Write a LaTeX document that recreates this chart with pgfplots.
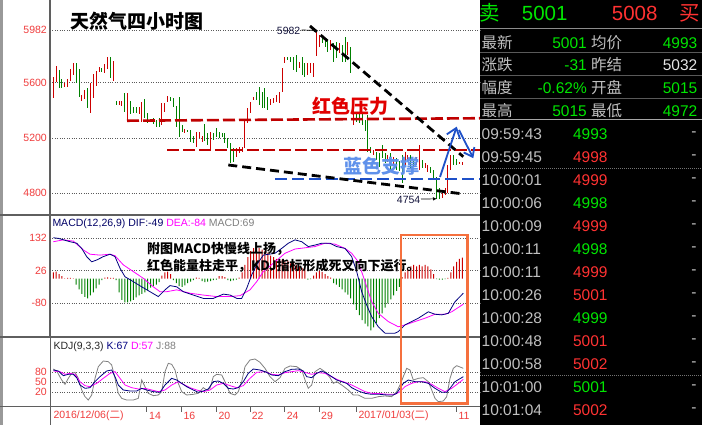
\documentclass[border=0pt]{standalone}
\usepackage{pgfplots}
\pgfplotsset{compat=1.18}
\usepackage{pgfplotstable}
\usepackage{fontspec}
\setmainfont{Liberation Sans}
\newfontfamily\cjk{Noto Sans CJK SC}
\usetikzlibrary{arrows.meta}
\definecolor{barred}{RGB}{204,0,0}
\definecolor{bargreen}{RGB}{0,128,0}
\definecolor{tickred}{RGB}{240,60,60}
\definecolor{dred}{RGB}{192,0,0}
\definecolor{dblue}{RGB}{30,80,200}
\definecolor{lblue}{RGB}{95,145,235}
\definecolor{navy}{RGB}{0,0,128}
\definecolor{magenta}{RGB}{255,0,255}
\definecolor{jgray}{RGB}{128,128,128}
\definecolor{gridc}{RGB}{90,90,90}
\definecolor{framec}{RGB}{95,95,95}
\definecolor{orangebox}{RGB}{245,112,62}
\definecolor{rpgreen}{RGB}{0,230,0}
\definecolor{rpred}{RGB}{255,50,50}
\definecolor{rpgray}{RGB}{192,192,192}

\pgfplotstableread{
i lo hi
0 5486 5643
1 5607 5721
4 5566 5595
5 5566 5624
6 5614 5699
7 5655 5740
10 5469 5511
11 5479 5547
13 5378 5595
14 5486 5663
15 5576 5687
16 5680 5711
18 5667 5735
19 5697 5788
21 5614 5757
23 5438 5467
24 5433 5467
26 5317 5523
30 5373 5421
31 5317 5462
38 5293 5455
39 5390 5455
40 5462 5503
46 5233 5264
50 5136 5245
51 5196 5245
52 5170 5213
55 5116 5245
64 5059 5124
65 5092 5136
66 5100 5136
67 5124 5329
68 5305 5414
69 5377 5462
70 5474 5498
76 5438 5479
77 5450 5486
78 5462 5510
79 5450 5535
80 5535 5704
81 5740 5788
86 5704 5752
89 5655 5740
90 5668 5745
91 5640 5740
92 5790 5982
93 5861 5945
97 5837 5909
100 5812 5885
103 5800 5897
105 5293 5402
112 5075 5112
117 5027 5075
119 5010 5060
123 4991 5099
124 5027 5075
127 5000 5060
128 4966 5148
130 4978 5015
131 4954 5003
136 4761 4809
137 4785 4833
138 4797 5003
139 4966 5075
142 5010 5027
143 5003 5027
}\redbars

\pgfplotstableread{
i lo hi
2 5559 5692
3 5559 5624
8 5595 5740
9 5494 5699
12 5419 5559
17 5680 5704
20 5631 5788
22 5438 5467
25 5390 5523
27 5370 5467
28 5378 5426
29 5378 5426
32 5341 5481
33 5305 5382
34 5317 5336
35 5300 5341
36 5281 5329
37 5281 5341
41 5469 5498
42 5421 5486
43 5281 5431
44 5208 5498
45 5245 5293
47 5245 5257
48 5172 5257
49 5160 5213
53 5179 5300
54 5148 5232
56 5184 5232
57 5208 5269
58 5196 5245
59 5204 5232
60 5165 5232
61 5124 5196
62 5015 5160
63 5027 5124
71 5474 5535
72 5438 5571
73 5414 5535
74 5414 5559
75 5402 5498
82 5764 5788
83 5752 5788
84 5692 5788
85 5680 5800
87 5655 5788
88 5639 5740
94 5885 5933
95 5861 5921
96 5825 5914
98 5752 5885
99 5776 5897
101 5752 5873
102 5752 5931
104 5670 5858
106 5317 5370
107 5305 5380
108 5290 5380
109 5250 5330
110 5099 5365
111 5087 5136
113 5039 5099
114 4991 5087
115 5051 5148
116 5015 5087
118 4954 5087
120 4966 5051
121 4960 5030
122 4870 5075
125 4978 5075
126 4990 5030
129 4978 5039
132 4942 4990
133 4894 4966
134 4754 4918
135 4760 4834
140 5003 5075
141 5000 5050
}\greenbars

\pgfplotstableread{
i v
0 20
1 23
2 15
3 8
4 1
5 2
6 2
7 1
18 3
19 4
20 2
21 2
38 10
39 20
40 23
41 15
50 3
51 2
58 8
59 8
60 5
65 3
66 20
67 45
68 70
69 90
70 100
71 105
72 100
73 95
74 90
75 85
76 75
77 70
78 65
79 60
80 62
81 55
82 58
83 50
84 52
85 45
86 40
87 35
88 30
91 10
92 20
93 25
94 22
95 15
96 8
97 3
122 5
123 20
124 30
125 40
126 45
127 40
128 45
129 40
130 45
131 40
132 30
133 15
138 2
139 20
140 40
141 55
142 65
143 69
}\macdpos

\pgfplotstableread{
i v
8 -20
9 -35
10 -50
11 -60
12 -65
13 -55
14 -45
15 -32
16 -20
17 -5
22 -5
23 -45
24 -70
25 -78
26 -78
27 -75
28 -70
29 -62
30 -55
31 -50
32 -45
33 -38
34 -30
35 -25
36 -20
37 -12
42 -5
43 -15
44 -25
45 -27
46 -22
47 -15
48 -10
49 -5
52 -8
53 -12
54 -10
55 -8
56 -5
57 -3
61 -5
62 -8
63 -6
64 -3
89 -3
90 -2
98 -15
99 -20
100 -27
101 -35
102 -45
103 -53
104 -65
105 -85
106 -103
107 -120
108 -136
109 -148
110 -157
111 -170
112 -160
113 -146
114 -130
115 -114
116 -95
117 -81
118 -68
119 -55
120 -40
121 -27
134 -2
135 -3
136 -3
137 -2
}\macdneg

\pgfplotsset{
  panel/.style={
    anchor=south west, scale only axis, width=430pt,
    xmin=50, xmax=480,
    axis line style={draw=none},
    xtick=\empty, major tick length=0pt,
    ymajorgrids,
    grid style={gridc, line width=0.6pt, dash pattern=on 0.8pt off 1.6pt},
    yticklabel style={font=\fontsize{10.5}{12}\selectfont, text=tickred, inner sep=0pt, xshift=-3pt},
  },
  barplot/.style={draw=none, mark=none,
    error bars/.cd, y dir=both, y explicit, error mark=none,
    error bar style={draw=#1, solid, line width=1pt}},
}

\begin{document}
\begin{tikzpicture}
\path[use as bounding box] (0pt,0pt) rectangle (702pt,425pt);
\fill[white] (0pt,0pt) rectangle (480pt,425pt);
\fill[black] (480pt,0pt) rectangle (702pt,425pt);
\fill[black!40] (0pt,0pt) rectangle (2.5pt,425pt);

% ---------- price panel ----------
\begin{axis}[panel, at={(50pt,210pt)}, height=215pt,
  ymin=4640.5, ymax=6199.25,
  ytick={4800,5200,5600,5982}, yticklabels={4800,5200,5600,5982}]
\addplot[barplot=barred] table[x expr={53.3+2.86*\thisrow{i}}, y expr={(\thisrow{lo}+\thisrow{hi})/2}, y error expr={(\thisrow{hi}-\thisrow{lo})/2}] {\redbars};
\addplot[barplot=bargreen] table[x expr={53.3+2.86*\thisrow{i}}, y expr={(\thisrow{lo}+\thisrow{hi})/2}, y error expr={(\thisrow{hi}-\thisrow{lo})/2}] {\greenbars};
\draw[dred, line width=2.6pt, dash pattern=on 12pt off 4pt] (axis cs:127,5324) -- (axis cs:480,5342);
\draw[dred, line width=2.6pt, dash pattern=on 12pt off 4pt] (axis cs:167,5112) -- (axis cs:480,5112);
\draw[dblue, line width=2.6pt, dash pattern=on 12pt off 5pt] (axis cs:275,4901.5) -- (axis cs:480,4901.5);
\draw[black, line width=2.8pt, dash pattern=on 9pt off 5pt] (axis cs:310,6010.75) -- (axis cs:463.3,5063);
\draw[black, line width=2.8pt, dash pattern=on 9pt off 5pt] (axis cs:228.3,5003) -- (axis cs:463.3,4793);
\draw[dblue, line width=1.8pt, -{Straight Barb[length=9pt,width=14pt]}] (axis cs:440,4916) -- (axis cs:456.7,5281);
\draw[dblue, line width=1.8pt, -{Straight Barb[length=8pt,width=12pt]}] (axis cs:459,5257) -- (axis cs:473.3,5052);
\draw[black, line width=0.7pt, -{Latex[length=4pt,width=3.5pt]}] (axis cs:301.5,5982) -- (axis cs:318,5978);
\node[anchor=east, inner sep=0pt, font=\fontsize{10.5}{12}\selectfont, text={rgb,255:red,20;green,20;blue,60}] at (axis cs:300.5,5978) {5982};
\draw[black, line width=0.7pt, -{Latex[length=4pt,width=3.5pt]}] (axis cs:421,4756) -- (axis cs:437,4758);
\node[anchor=east, inner sep=0pt, font=\fontsize{10.5}{12}\selectfont, text={rgb,255:red,20;green,20;blue,60}] at (axis cs:420.5,4747) {4754};
\end{axis}

% ---------- MACD panel ----------
\begin{axis}[panel, at={(50pt,88pt)}, height=122pt,
  ymin=-191.6, ymax=208.6,
  ytick={-80,26,132}, yticklabels={-80,26,132}]
\addplot[ybar, bar width=1pt, fill=barred, draw=none] table[x expr={53.3+2.86*\thisrow{i}}, y=v] {\macdpos};
\addplot[ybar, bar width=1pt, fill=bargreen, draw=none] table[x expr={53.3+2.86*\thisrow{i}}, y=v] {\macdneg};
\addplot[magenta, line width=0.8pt] coordinates {(53.3,121)(63.3,127)(73.3,123)(83.3,94)(90,80)(100,77)(110,80)(115,75)(123.3,45)(133.3,23)(143.3,1)(153.3,-27)(160,-43)(166.7,-43)(176.7,-37)(190,-48)(203.3,-54)(216.7,-59)(230,-59)(240,-56)(250,-37)(256.7,-10)(263.3,23)(275,55)(285,83)(295,97)(305,101)(315,105)(325,116)(335,113)(345,99)(351.7,83)(358.3,55)(365,-10)(371.7,-76)(378.3,-114)(388.3,-141)(398.3,-158)(405,-152)(415,-141)(425,-130)(435,-117)(445,-117)(451.7,-109)(463.3,-84)};
\addplot[navy, line width=0.8pt] coordinates {(53.3,134)(58.3,132)(70,121)(76.7,116)(81.7,99)(86.7,72)(91.7,55)(96.7,61)(103.3,72)(110,80)(115,72)(120,34)(125,6)(133.3,-10)(141.7,-27)(150,-43)(158.3,-59)(165,-37)(170,-23)(176.7,-27)(183.3,-43)(193.3,-54)(203.3,-65)(213.3,-65)(223.3,-51)(230,-54)(236.7,-65)(241.7,-65)(246.7,-32)(251.7,12)(256.7,45)(263.3,77)(275,83)(281.7,99)(288.3,116)(295,127)(301.7,121)(308.3,105)(315,110)(321.7,116)(330,116)(336.7,105)(345,99)(351.7,72)(356.7,23)(361.7,-43)(366.7,-87)(371.7,-125)(378.3,-158)(385,-179)(395,-179)(398.3,-174)(405,-152)(411.7,-141)(418.3,-130)(428.3,-109)(435,-117)(441.7,-119)(448.3,-114)(455,-76)(463.3,-48)};
\end{axis}

% ---------- KDJ panel ----------
\begin{axis}[panel, at={(50pt,19pt)}, height=69pt,
  ymin=-22, ymax=185,
  ytick={20,50,80}, yticklabels={20,50,80}]
\addplot[jgray, line width=0.8pt] coordinates {(53.3,89)(56.7,83)(61.7,56)(65,43)(68.3,61)(71.7,76)(75,79)(78.3,61)(81.7,26)(85,6)(88.3,-4)(91.7,11)(95,61)(98.3,96)(103.3,113)(108.3,111)(111.7,101)(115,61)(118.3,16)(121.7,1)(126.7,-4)(133.3,-4)(138.3,1)(141.7,56)(145,36)(148.3,16)(153.3,9)(158.3,11)(161.7,21)(165,81)(168.3,106)(171.7,103)(175,86)(178.3,46)(181.7,21)(186.7,11)(193.3,13)(198.3,16)(203.3,33)(206.7,26)(210,31)(213.3,66)(216.7,73)(221.7,71)(225,51)(230,16)(235,11)(238.3,21)(241.7,51)(245,96)(250,116)(255,119)(260,109)(265,91)(270,66)(275,51)(280,63)(285,91)(290,98)(296.7,96)(301.7,86)(305,56)(308.3,31)(311.7,41)(315,81)(320,91)(325,81)(330,63)(333.3,46)(336.7,51)(341.7,41)(348.3,26)(353.3,11)(358.3,11)(365,1)(371.7,1)(378.3,6)(385,8)(391.7,6)(396.7,21)(400,41)(403.3,66)(406.7,91)(410,86)(413.3,56)(418.3,61)(423.3,63)(428.3,51)(431.7,26)(435,1)(438.3,-9)(443.3,-7)(446.7,6)(450,61)(453.3,91)(456.7,99)(461.7,93)(463.3,91)};
\addplot[magenta, line width=0.8pt] coordinates {(53.3,83)(60,81)(65,73)(70,76)(75,73)(80,51)(85,39)(90,36)(96.7,46)(103.3,61)(110,76)(115,81)(120,61)(125,41)(131.7,33)(138.3,29)(145,31)(151.7,26)(158.3,21)(165,26)(171.7,41)(178.3,51)(183.3,43)(190,33)(196.7,26)(203.3,21)(210,26)(216.7,41)(223.3,46)(230,39)(236.7,33)(243.3,39)(250,61)(256.7,79)(265,81)(271.7,73)(278.3,71)(285,78)(291.7,81)(298.3,84)(305,79)(311.7,73)(318.3,78)(325,76)(331.7,66)(338.3,56)(345,49)(351.7,41)(358.3,31)(365,21)(371.7,16)(380,15)(388.3,13)(395,13)(400,21)(405,36)(411.7,46)(418.3,51)(425,51)(431.7,43)(438.3,31)(445,21)(451.7,31)(458.3,46)(463.3,58)};
\addplot[navy, line width=0.8pt] coordinates {(53.3,86)(58.3,83)(63.3,69)(68.3,73)(73.3,73)(76.7,63)(80,41)(85,31)(90,33)(95,51)(100,66)(106.7,83)(111.7,86)(115,66)(118.3,41)(123.3,26)(130,23)(136.7,23)(141.7,31)(146.7,26)(153.3,21)(160,19)(165,41)(171.7,61)(176.7,56)(181.7,46)(186.7,36)(193.3,26)(198.3,19)(203.3,23)(208.3,29)(213.3,51)(218.3,53)(223.3,46)(228.3,31)(233.3,29)(238.3,33)(243.3,51)(248.3,76)(253.3,89)(260,86)(265,81)(271.7,71)(278.3,69)(285,81)(291.7,88)(298.3,89)(303.3,83)(306.7,66)(311.7,63)(316.7,76)(321.7,83)(326.7,76)(331.7,66)(336.7,56)(341.7,51)(346.7,46)(351.7,33)(358.3,23)(365,16)(371.7,13)(380,13)(386.7,11)(393.3,11)(396.7,16)(400,31)(403.3,46)(408.3,56)(415,51)(421.7,51)(428.3,46)(435,31)(441.7,19)(446.7,19)(450,31)(455,51)(461.7,63)(463.3,66)};
\end{axis}

% ---------- frame lines ----------
\draw[framec, line width=1.6pt] (0pt,210pt) -- (480pt,210pt);
\draw[framec, line width=1.6pt] (0pt,88pt) -- (480pt,88pt);
\draw[framec, line width=0.8pt] (0pt,18.5pt) -- (480pt,18.5pt);
\draw[framec, line width=1.6pt] (50pt,88pt) -- (50pt,425pt);
\draw[framec, line width=0.8pt] (50pt,0pt) -- (50pt,88pt);

% ---------- date axis ----------
\foreach \t in {146.7,181,216.7,250,284.3,319.3,356.7,456.7}
  \draw[framec, line width=0.7pt] (\t pt,18.5pt) -- (\t pt,12.5pt);
\begin{scope}[every node/.style={anchor=west, inner sep=0pt, text=tickred, font=\fontsize{10.5}{12}\selectfont}]
\node at (53.3pt,9.5pt) {2016/12/06({\cjk 二})};
\node at (149pt,9.5pt) {14};
\node at (183.3pt,9.5pt) {16};
\node at (218.3pt,9.5pt) {20};
\node at (251.7pt,9.5pt) {22};
\node at (286.7pt,9.5pt) {24};
\node at (321pt,9.5pt) {29};
\node at (358.3pt,9.5pt) {2017/01/03({\cjk 二})};
\node at (458.3pt,9.5pt) {11};
\end{scope}

% ---------- panel captions ----------
\node[anchor=west, inner sep=0pt, font=\fontsize{10.5}{12}\selectfont] at (52.3pt,201pt) {\textcolor{navy!80!black}{MACD(12,26,9) DIF:-49} \textcolor{magenta}{DEA:-84} \textcolor{jgray}{MACD:69}};
\node[anchor=west, inner sep=0pt, font=\fontsize{10.5}{12}\selectfont] at (53.3pt,78.3pt) {\textcolor{black!85}{KDJ(9,3,3)} \textcolor{navy}{K:67} \textcolor{magenta}{D:57} \textcolor{jgray}{J:88}};

% ---------- annotations ----------
\node[anchor=west, inner sep=0pt, font={\cjk\bfseries\fontsize{19}{21}\selectfont}] at (70pt,403.5pt) {天然气四小时图};
\node[anchor=west, inner sep=0pt, text={rgb,255:red,225;green,0;blue,0}, font={\cjk\bfseries\fontsize{19}{21}\selectfont}] at (312pt,318.5pt) {红色压力};
\node[anchor=west, inner sep=0pt, text=lblue, font={\cjk\bfseries\fontsize{19}{21}\selectfont}] at (343pt,259pt) {蓝色支撑};
\node[anchor=west, inner sep=0pt, font={\cjk\bfseries\fontsize{13}{15}\selectfont}] at (147pt,176pt) {附图MACD快慢线上扬，};
\node[anchor=west, inner sep=0pt, font={\cjk\bfseries\fontsize{13}{15}\selectfont}] at (147pt,159pt) {红色能量柱走平，KDJ指标形成死叉向下运行。};
\draw[orangebox, line width=2.6pt] (401pt,190pt) rectangle (467.7pt,21.7pt);

% ---------- right quote panel ----------
\begin{scope}[every node/.style={inner sep=0pt}]
\node[anchor=west, text=rpgreen, font={\cjk\fontsize{20.5}{22}\selectfont}] at (479.5pt,412pt) {卖};
\node[anchor=west, text=rpgreen, font=\fontsize{20.5}{22}\selectfont] at (521.7pt,412pt) {5001};
\node[anchor=west, text=rpred, font=\fontsize{20.5}{22}\selectfont] at (611.7pt,412pt) {5008};
\node[anchor=west, text=rpred, font={\cjk\fontsize{20.5}{22}\selectfont}] at (679.5pt,412pt) {买};
\draw[black!45, line width=0.8pt] (480pt,397pt) -- (702pt,397pt);
\draw[black!65, line width=0.8pt] (480pt,373pt) -- (702pt,373pt);
\draw[black!65, line width=0.8pt] (480pt,350pt) -- (702pt,350pt);
\draw[black!65, line width=0.8pt] (480pt,327pt) -- (702pt,327pt);
\draw[black!35, line width=1pt] (480pt,305pt) -- (702pt,305pt);
\draw[black!55, line width=0.7pt, dash pattern=on 0.8pt off 1.2pt] (480pt,256.7pt) -- (702pt,256.7pt);
\draw[black!55, line width=0.7pt, dash pattern=on 0.8pt off 1.2pt] (480pt,50pt) -- (702pt,50pt);
\tikzset{lab/.style={anchor=west, text=rpgray, font={\cjk\fontsize{15.5}{17}\selectfont}},
  val/.style={anchor=east, font=\fontsize{15.5}{17}\selectfont}}
\node[lab] at (481.5pt,382pt) {最新};
\node[val, text=rpgreen] at (587pt,382pt) {5001};
\node[lab] at (591pt,382pt) {均价};
\node[val, text=rpgreen] at (697.5pt,382pt) {4993};
\node[lab] at (481.5pt,360pt) {涨跌};
\node[val, text=rpgreen] at (587pt,360pt) {-31};
\node[lab] at (591pt,360pt) {昨结};
\node[val, text=white!90!black] at (697.5pt,360pt) {5032};
\node[lab] at (481.5pt,337pt) {幅度};
\node[val, text=rpgreen] at (587pt,337pt) {-0.62\%};
\node[lab] at (591pt,337pt) {开盘};
\node[val, text=rpgreen] at (697.5pt,337pt) {5015};
\node[lab] at (481.5pt,314pt) {最高};
\node[val, text=rpgreen] at (587pt,314pt) {5015};
\node[lab] at (591pt,314pt) {最低};
\node[val, text=rpgreen] at (697.5pt,314pt) {4972};
\tikzset{tm/.style={anchor=west, text=rpgray, font=\fontsize{15.5}{17}\selectfont}}
\node[tm] at (481.5pt,291pt) {09:59:43}; \node[val, text=rpgreen] at (607.7pt,291pt) {4993};
\node[tm] at (481.5pt,268pt) {09:59:45}; \node[val, text=rpred] at (607.7pt,268pt) {4998};
\node[tm] at (481.5pt,245pt) {10:00:01}; \node[val, text=rpred] at (607.7pt,245pt) {4999};
\node[tm] at (481.5pt,222pt) {10:00:06}; \node[val, text=rpgreen] at (607.7pt,222pt) {4998};
\node[tm] at (481.5pt,199pt) {10:00:09}; \node[val, text=rpred] at (607.7pt,199pt) {4999};
\node[tm] at (481.5pt,176pt) {10:00:11}; \node[val, text=rpgreen] at (607.7pt,176pt) {4998};
\node[tm] at (481.5pt,153pt) {10:00:11}; \node[val, text=rpred] at (607.7pt,153pt) {4999};
\node[tm] at (481.5pt,130pt) {10:00:26}; \node[val, text=rpred] at (607.7pt,130pt) {5001};
\node[tm] at (481.5pt,107pt) {10:00:28}; \node[val, text=rpgreen] at (607.7pt,107pt) {4999};
\node[tm] at (481.5pt,84pt) {10:00:48}; \node[val, text=rpred] at (607.7pt,84pt) {5001};
\node[tm] at (481.5pt,61pt) {10:00:58}; \node[val, text=rpred] at (607.7pt,61pt) {5002};
\node[tm] at (481.5pt,38pt) {10:01:00}; \node[val, text=rpgreen] at (607.7pt,38pt) {5001};
\node[tm] at (481.5pt,15pt) {10:01:04}; \node[val, text=rpred] at (607.7pt,15pt) {5002};
\foreach \yy in {291,268,245,222,199,176,153,130,107,84,61,38,15}
  \node[text=rpgray, font=\fontsize{15.5}{17}\selectfont] at (694pt,\yy pt) {-};
\end{scope}
\end{tikzpicture}
\end{document}
